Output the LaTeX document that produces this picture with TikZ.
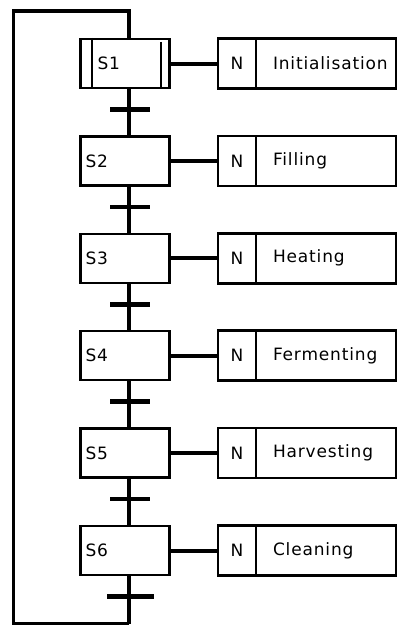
\documentclass[tikz,border=0pt]{standalone}
\usepackage{fontspec}
\newfontfamily\gfont[LetterSpace=5]{DejaVu Sans}
\begin{document}
\begin{tikzpicture}[x=1pt,y=-1pt,
  stepbox/.style={draw,line width=2.5pt,rectangle,minimum width=89pt,minimum height=49pt,
    text width=79pt,inner xsep=5pt,align=left,font=\gfont\fontsize{17}{20}\selectfont},
  nbox/.style={draw,line width=2.5pt,rectangle,minimum width=38pt,minimum height=50pt,inner sep=0pt,
    font=\gfont\fontsize{17}{20}\selectfont},
  actbox/.style={draw,line width=2.5pt,rectangle,minimum width=140pt,minimum height=50pt,
    text width=120pt,inner xsep=10pt,align=left,font=\gfont\fontsize{17}{20}\selectfont},
  conn/.style={line width=4pt},
  bar/.style={line width=4.5pt},
  loopline/.style={line width=3.5pt,line join=miter}]
\useasboundingbox (0,0) rectangle (399,625);
\fill[white] (0,0) rectangle (399,625);
% steps
\foreach \i/\lab/\act [evaluate=\i as \yy using {63.5+97.4*(\i-1)}] in
  {1/{\hspace*{12pt}S1}/Initialisation,2/S2/Filling,3/S3/Heating,4/S4/Fermenting,5/S5/Harvesting,6/S6/Cleaning}{
  \node[stepbox] (s\i) at (125,\yy) {\lab};
  \node[nbox] (n\i) at (237,\yy) {N};
  \node[actbox] (a\i) at (326,\yy) {\hspace*{7pt}\act};
  \draw[conn] (s\i.east) -- (n\i.west);
  \coordinate (t\i) at (129,\yy+46);
}
% double line for initial step
\draw[line width=2.5pt] ([xshift=12.8pt]s1.north west) -- ([xshift=12.8pt]s1.south west);
\draw[line width=2.5pt] ([xshift=-10pt,yshift=-4pt]s1.north east) -- ([xshift=-10pt,yshift=1pt]s1.south east);
% links and transitions
\foreach \i/\j in {1/2,2/3,3/4,4/5,5/6}{
  \draw[conn] ([xshift=4pt]s\i.south) -- ([xshift=4pt]s\j.north);
  \draw[bar] ([xshift=-19pt]t\i) -- ([xshift=21pt]t\i);
}
\draw[bar] ([xshift=-22pt]t6) -- ([xshift=25pt]t6);
% loop back
\coordinate (bot) at (129,624);
\coordinate (topleft) at (13.5,11);
\draw[conn] ([xshift=4pt]s6.south) -- (bot);
\draw[loopline] (bot) -| (topleft) -| ([xshift=4pt]s1.north);
\end{tikzpicture}
\end{document}
